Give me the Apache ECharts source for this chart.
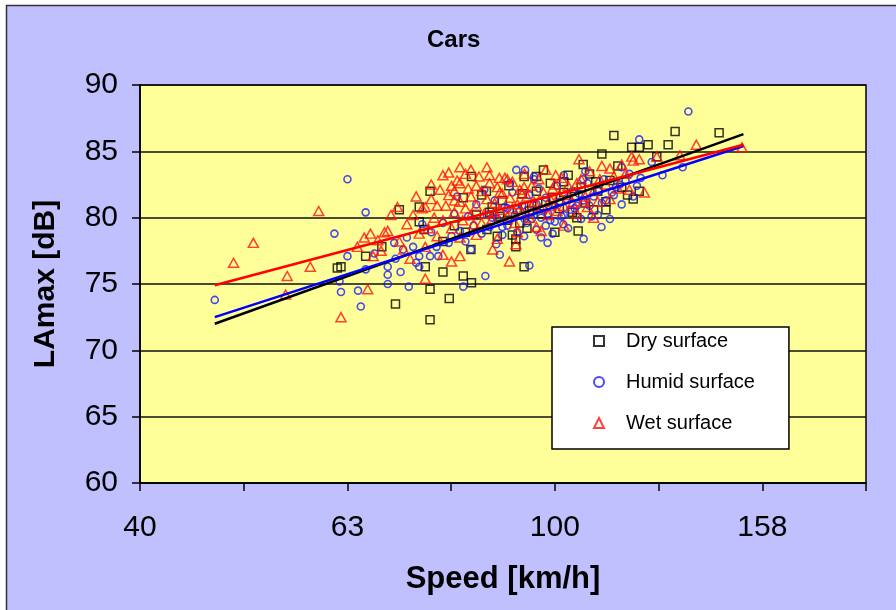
<!DOCTYPE html>
<html>
<head>
<meta charset="utf-8">
<title>Cars</title>
<script src="https://cdn.jsdelivr.net/npm/echarts@6/dist/echarts.min.js"></script>
<style>
  html, body { margin: 0; padding: 0; background: #ffffff; }
  #chart { width: 896px; height: 610px; }
</style>
</head>
<body>
<div id="chart"></div>
<script>
// Pass-by measurements: [speed km/h, LAmax dB]
const dryPoints = [
  [68.1,77.8],[65.7,77.1],[62.2,76.3],[61.7,76.2],[75,76.3],[78,75.9],[81.6,75.6],[83.1,75.1],
  [75.8,74.6],[70.2,73.5],[79.1,73.9],[75.8,72.3],[74,79.7],[74.8,79.1],[75.8,82.0],[83.1,83.1],
  [70.8,80.6],[74,80.8],[81.6,81.5],[114,86.2],[111,84.8],[106.5,84.0],[93.4,83.1],[96,83.1],
  [102,82.7],[112,81.2],[112,80.6],[109,80.6],[85.9,82.0],[90.3,82.4],[130.6,86.5],[144,86.4],
  [118.6,85.3],[123,85.5],[128.6,85.5],[120.6,85.3],[125.4,84.6],[120.6,82.0],[119,81.4],[117.5,81.7],
  [100,78.9],[105.3,79.0],[93.4,76.3],[91.7,78.4],[91.7,77.8],[105,80.0],
  [78,78.2],[80,79.4],[82,78.9],[84,80.2],[86,79.1],[87,80.8],[88,78.6],[89,81.3],[90,79.8],
  [92,80.6],[93,81.8],[94,79.2],[95,80.9],[96,82.0],[97,80.3],[98,81.2],[99,82.6],[101,80.7],
  [102,81.9],[103,83.2],[104,80.4],[106,82.3],[107,81.1],[108,83.3],[110,82.0],[113,82.8],
  [115,83.9],[116,82.3],[85,81.7],[83,77.6],[91,78.7],[97.5,83.6],
  [88.5,80.1],[94.5,80.5],[99.5,81.5],[104.5,81.6],[109.5,82.7],[86.5,80.4],[92.5,79.6]
];
const humidPoints = [
  [47,73.8],[63.1,82.9],[61.3,78.8],[65.7,80.4],[134.5,88.0],[63.1,77.1],[65.7,76.1],[62.2,74.4],
  [64.6,74.5],[65,73.3],[69,76.3],[69,75.7],[69,75.0],[72.3,74.8],[71.4,77.6],[74,77.1],[75.8,77.1],
  [77.2,77.1],[74,76.3],[81.6,74.8],[79,78.1],[76.9,77.8],[73,77.8],[70.2,76.9],[62,75.2],
  [110.9,79.3],[106.6,78.4],[98.4,78.1],[101.9,79.5],[94.5,76.4],[85.7,75.6],[93.4,78.6],[87.8,78.0],
  [97,78.5],[91.8,83.6],[93.6,83.6],[95.5,82.9],[107,83.5],[106.5,82.9],[114,81.7],[110.2,82.0],
  [120.6,85.9],[127,83.2],[132.8,83.8],[116,83.8],[119,81.6],[124,84.2],
  [76,78.9],[78,79.6],[79.5,78.6],[80,80.3],[81,79.0],[82,78.2],[82.5,80.1],[83.5,79.4],[84,81.0],
  [85,78.8],[86,80.2],[86.5,79.3],[87.5,81.3],[88,79.9],[89,78.7],[89.5,80.8],[90,79.4],[91,81.9],
  [91.5,80.2],[92,78.9],[93,80.9],[94,79.6],[94.5,81.7],[95,80.4],[96,79.1],[96.5,82.2],[97.5,80.6],
  [98,81.5],[99,79.8],[100,80.9],[100.5,82.4],[101.5,80.1],[102.5,81.4],[103,79.2],[104,82.0],
  [104.5,80.7],[105.5,81.8],[106,79.9],[107.5,82.6],[108,80.9],[109,81.6],[110,80.2],[111.5,82.9],
  [112,81.3],[113,79.9],[114.5,82.3],[116,81.0],[117,82.8],[118,83.3],[120,82.4],[121,83.0],
  [72,78.5],[74.5,79.5],[70,78.1],[67,77.3],[71,75.9],[73.5,76.6],[83,77.6],[88.5,77.2],[80.5,81.6],
  [85.5,82.1],[95.5,83.1],[90.5,82.6],[102,83.2],[99.5,78.8],
  [87,80.0],[92.5,80.5],[97,80.0],[101,81.2],[105,80.9],[89,79.3],[95,79.9],[98.5,80.3],
  [96,81.0],[98,79.4],[100,79.7],[103.5,80.6],[106.5,81.3],[108.5,80.1],[111,81.1],[113.5,81.9],
  [115.5,82.5],[93.5,79.9],[90,80.7],[102,80.2]
];
const wetPoints = [
  [49,76.6],[51.2,78.1],[55.2,75.6],[55,74.2],[58.1,76.3],[59.2,80.5],[62.2,72.5],[66,74.6],
  [66.4,78.8],[69,79.0],[66.8,77.1],[72.5,76.9],[70.8,78.2],[75,75.4],[79.5,76.7],[81,77.1],
  [90.4,76.7],[87.1,77.6],[91.7,78.0],[109,80.0],[81,83.8],[78,83.2],[75,80.8],[81,82.6],[80,82.0],
  [105.5,84.4],[100.2,83.2],[88.4,83.0],[93.4,82.3],[106.5,81.2],[100,82.5],[136.9,85.5],[151.5,85.3],
  [120.6,84.4],[125.4,84.6],[122,81.9],[132,84.7],[118.6,84.6],[64.5,77.8],[65.5,78.5],[67.5,78.3],[68,77.5],
  [72,79.5],[73,80.2],[74,78.8],[74.5,80.7],[75.5,79.2],[76,81.4],[76.5,80.0],[77,78.6],[77.5,82.1],
  [78,79.8],[78.5,80.9],[79,81.7],[79.5,79.2],[80,80.4],[80.5,82.8],[81,81.2],[81.5,79.8],[82,80.7],
  [82.5,82.2],[83,81.6],[83.5,79.5],[84,80.9],[84.5,83.1],[85,82.0],[85.5,80.3],[86,81.4],[86.5,82.6],
  [87,79.9],[87.5,81.1],[88,82.3],[88.5,80.6],[89,81.8],[89.5,83.0],[90,80.1],[90.5,81.5],[91,82.7],
  [91.5,79.6],[92,81.0],[92.5,82.1],[93,80.4],[93.5,83.3],[94,81.6],[94.5,80.0],[95,82.4],[95.5,81.2],
  [96,79.3],[96.5,82.9],[97,80.7],[97.5,81.9],[98,83.6],[98.5,80.2],[99,81.4],[99.5,82.2],[100.5,80.5],
  [101,81.7],[101.5,83.0],[102,80.9],[103,82.4],[104,81.1],[105,80.3],[106,82.9],[107,81.6],[108,83.5],
  [109,82.0],[110,81.2],[111,83.9],[112,82.5],[113,81.4],[114,83.1],[115,82.2],[116,84.0],[117,83.3],
  [118,82.1],[119,84.3],[76,82.5],[79,83.4],[83,83.6],[86,83.8],[84,78.7],[88,78.4],[92,78.9],
  [97,79.0],[102,79.4],[70.5,80.8],[73.5,81.6],[75,77.8],[78,77.2],[81,78.5],[71.5,77.6],[69.5,80.2],[68.5,78.9],
  [79.5,82.4],[82,83.3],[84,82.4],[86.5,83.2],[88.5,81.9],[90,82.9],[77,80.9],[80,81.3],[83,80.2],
  [85,79.6],[87.5,80.4],[91,80.7],[93,81.8],[95,80.9],[99,80.9],[103,81.7],[105,82.6],[107.5,80.8],
  [110.5,82.9],[113,83.7]
];

// Regression lines, end points [speed km/h] and levels [dB]
const trendSpeeds = [47, 152];
const dryTrend = [72.0, 86.3];
const humidTrend = [72.5, 85.4];
const wetTrend = [74.9, 85.5];

// Speed axis: log10(speed), labelled at every other tenth of a decade
const xTickLogs = [1.6, 1.8, 2.0, 2.2];
const xTickLabels = ['40', '63', '100', '158'];
const seriesNames = ['Dry surface', 'Humid surface', 'Wet surface'];

const toLog = pts => pts.map(p => [Math.log10(p[0]), p[1]]);
const trendData = lv => trendSpeeds.map((s, i) => [Math.log10(s), lv[i]]);

const FONT = '"Liberation Sans", Arial, sans-serif';

const chart = echarts.init(document.getElementById('chart'), null, { renderer: 'canvas' });

chart.setOption({
  animation: false,
  backgroundColor: '#ffffff',
  graphic: [{
    type: 'rect',
    z: -10,
    shape: { x: 6.5, y: 5.5, width: 900, height: 620 },
    style: { fill: '#c0c0ff', stroke: '#333333', lineWidth: 1.5 }
  }],
  title: {
    text: 'Cars',
    left: 427,
    top: 28,
    padding: 0,
    textStyle: { fontFamily: FONT, fontSize: 24, fontWeight: 'bold', color: '#000' }
  },
  grid: {
    left: 140, right: 30, top: 85, bottom: 127,
    show: true,
    backgroundColor: '#ffff99',
    borderColor: '#000',
    borderWidth: 1.5
  },
  legend: {
    data: seriesNames,
    orient: 'vertical',
    left: 552,
    top: 327,
    padding: [4, 34, 16, 41],
    itemGap: 21,
    itemWidth: 10,
    itemHeight: 10,
    backgroundColor: '#ffffff',
    borderColor: '#000',
    borderWidth: 1.5,
    textStyle: { fontFamily: FONT, fontSize: 20, color: '#000', lineHeight: 20, padding: [0, 0, 0, 17] }
  },
  xAxis: {
    type: 'value',
    min: 1.6,
    max: 2.3,
    interval: 0.1,
    name: 'Speed [km/h]',
    nameLocation: 'middle',
    nameGap: 81,
    nameTextStyle: { fontFamily: FONT, fontSize: 31, fontWeight: 'bold', color: '#000' },
    axisLine: { show: true, lineStyle: { color: '#000', width: 1.5 } },
    axisTick: { show: true, inside: false, length: 8, lineStyle: { color: '#000', width: 1.5 } },
    splitLine: { show: false },
    axisLabel: {
      margin: 30,
      fontFamily: FONT,
      fontSize: 30,
      color: '#000',
      showMaxLabel: true,
      formatter: v => {
        const i = xTickLogs.findIndex(t => Math.abs(t - v) < 1e-6);
        return i >= 0 ? xTickLabels[i] : '';
      }
    }
  },
  yAxis: {
    type: 'value',
    min: 60,
    max: 90,
    interval: 5,
    name: 'LAmax [dB]',
    nameLocation: 'middle',
    nameGap: 79,
    nameRotate: 90,
    nameTextStyle: { fontFamily: FONT, fontSize: 30, fontWeight: 'bold', color: '#000' },
    axisLine: { show: true, lineStyle: { color: '#000', width: 1.5 } },
    axisTick: { show: true, inside: false, length: 8, lineStyle: { color: '#000', width: 1.5 } },
    splitLine: { show: true, lineStyle: { color: '#111', width: 1.5 } },
    axisLabel: { margin: 22, fontFamily: FONT, fontSize: 30, color: '#000' }
  },
  series: [
    {
      name: seriesNames[0], type: 'scatter', symbol: 'rect', symbolSize: 8,
      itemStyle: { color: 'rgba(0,0,0,0)', borderColor: '#000', borderWidth: 1.5 },
      data: toLog(dryPoints), z: 2
    },
    {
      name: seriesNames[1], type: 'scatter', symbol: 'circle', symbolSize: 7,
      itemStyle: { color: 'rgba(0,0,0,0)', borderColor: '#1a1aff', borderWidth: 1.6 },
      data: toLog(humidPoints), z: 3
    },
    {
      name: seriesNames[2], type: 'scatter', symbol: 'triangle', symbolSize: [10, 9],
      itemStyle: { color: 'rgba(0,0,0,0)', borderColor: '#ff1010', borderWidth: 1.5 },
      data: toLog(wetPoints), z: 4
    },
    {
      name: 'dry-fit', type: 'line', data: trendData(dryTrend), symbol: 'none', z: 6,
      lineStyle: { color: '#000', width: 2.5 }, silent: true
    },
    {
      name: 'humid-fit', type: 'line', data: trendData(humidTrend), symbol: 'none', z: 6,
      lineStyle: { color: '#0000ff', width: 2.5 }, silent: true
    },
    {
      name: 'wet-fit', type: 'line', data: trendData(wetTrend), symbol: 'none', z: 6,
      lineStyle: { color: '#ff0000', width: 2.5 }, silent: true
    }
  ]
});
</script>
</body>
</html>
